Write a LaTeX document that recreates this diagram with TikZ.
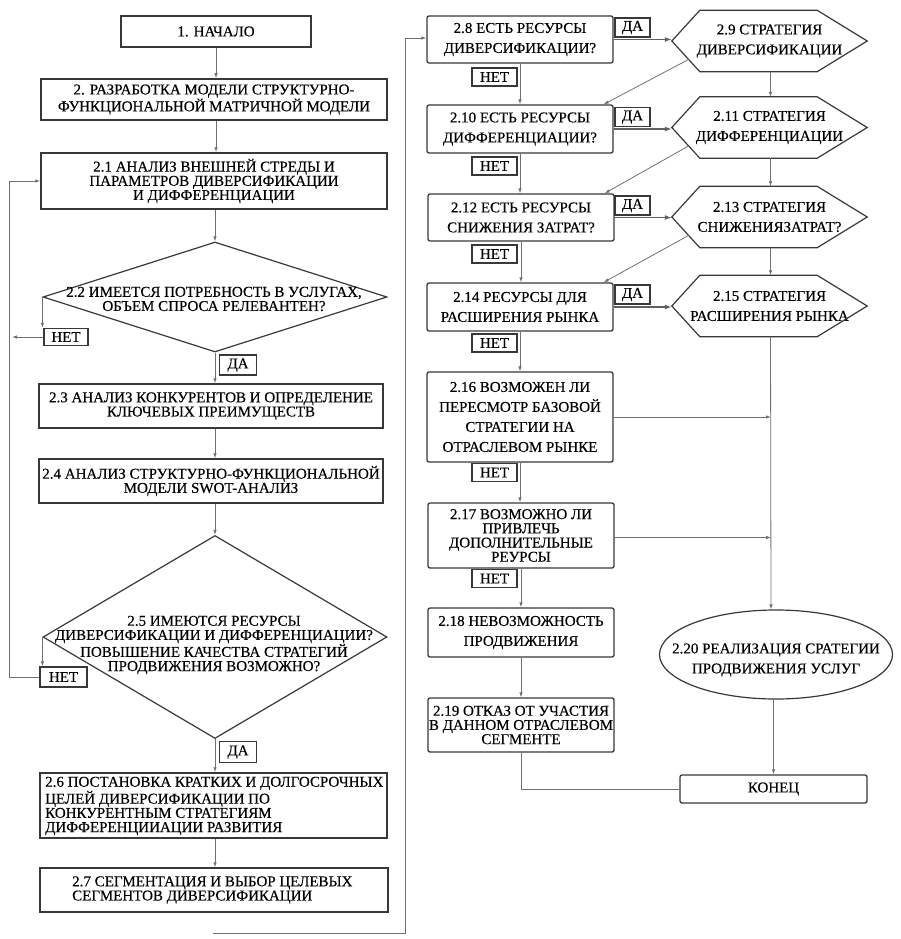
\documentclass[tikz,border=0pt]{standalone}
\usepackage{fontspec}
\setmainfont{Liberation Serif}[FakeBold=0.35]
\usetikzlibrary{shapes.geometric,arrows.meta,calc}
\definecolor{bord}{HTML}{383838}
\definecolor{conn}{HTML}{707070}
\newcommand\txtL{\fontsize{15pt}{14.2pt}\selectfont}
\newcommand\txtR{\fontsize{15pt}{20pt}\selectfont}
\newcommand\txtRt{\fontsize{15pt}{14.2pt}\selectfont}
\newcommand\drawhex[1]{\draw[bord,line width=1.2pt] (#1.west) -- ([xshift=28pt]#1.north west) -- ([xshift=-50pt]#1.north east) -- (#1.east) -- ([xshift=-50pt]#1.south east) -- ([xshift=28pt]#1.south west) -- cycle;}
\tikzset{
  box/.style={draw=bord, line width=1.5pt, inner sep=1pt, align=center, font=\txtL},
  rbox/.style={box, line width=1.3pt, rounded corners=2pt, font=\txtR, minimum width=186pt},
  lab/.style={draw=bord, line width=1.3pt, inner sep=0pt, font=\txtL},
  hexn/.style={minimum width=195pt, minimum height=61pt, inner sep=0pt, align=center, font=\txtR},
  dia/.style={diamond, draw=bord, line width=1.2pt, inner sep=0pt},
  txt/.style={inner sep=0pt, align=center, font=\txtL},
  arr/.style={draw=conn, line width=0.8pt, -{Latex[length=5pt,width=3.5pt]}},
  ln/.style={draw=conn, line width=0.8pt},
  yes/.style={draw=bord!80, line width=1.8pt, -{Latex[length=7pt,width=5pt]}}
}
\begin{document}
\begin{tikzpicture}[x=1pt,y=-1pt]
\useasboundingbox (0,0) rectangle (900,939);
% ---------- left column ----------
\node[box, minimum width=190pt, minimum height=31pt] (n1) at (216,31.5) {1. НАЧАЛО};
\node[box, minimum width=346pt, minimum height=41pt] (n2) at (214,99.5) {2. РАЗРАБОТКА МОДЕЛИ СТРУКТУРНО-\\ФУНКЦИОНАЛЬНОЙ МАТРИЧНОЙ МОДЕЛИ};
\node[box, minimum width=346pt, minimum height=56pt] (n21) at (214,181) {2.1 АНАЛИЗ ВНЕШНЕЙ СТРЕДЫ И\\ПАРАМЕТРОВ ДИВЕРСИФИКАЦИИ\\И ДИФФЕРЕНЦИАЦИИ};
\node[dia, minimum width=344pt, minimum height=110pt] (d22) at (215,297) {};
\node[txt] (t22) at (214,299) {2.2 ИМЕЕТСЯ ПОТРЕБНОСТЬ В УСЛУГАХ,\\ОБЪЕМ СПРОСА РЕЛЕВАНТЕН?};
\node[lab, minimum width=44pt, minimum height=17pt] (l22no) at (66,337) {НЕТ};
\node[lab, minimum width=37pt, minimum height=20pt] (l22yes) at (238,365) {ДА};
\node[box, minimum width=344pt, minimum height=44pt] (n23) at (211,406) {2.3 АНАЛИЗ КОНКУРЕНТОВ И ОПРЕДЕЛЕНИЕ\\КЛЮЧЕВЫХ ПРЕИМУЩЕСТВ};
\node[box, minimum width=344pt, minimum height=44pt] (n24) at (211,481) {2.4 АНАЛИЗ СТРУКТУРНО-ФУНКЦИОНАЛЬНОЙ\\МОДЕЛИ SWOT-АНАЛИЗ};
\node[dia, minimum width=344pt, minimum height=203pt] (d25) at (215,637) {};
\node[txt] (t25) at (214,645) {2.5 ИМЕЮТСЯ РЕСУРСЫ\\ДИВЕРСИФИКАЦИИ И ДИФФЕРЕНЦИАЦИИ?\\ПОВЫШЕНИЕ КАЧЕСТВА СТРАТЕГИЙ\\ПРОДВИЖЕНИЯ ВОЗМОЖНО?};
\node[lab, minimum width=47pt, minimum height=20pt] (l25no) at (63.5,677) {НЕТ};
\node[lab, minimum width=37pt, minimum height=21pt] (l25yes) at (238,752) {ДА};
\node[box, minimum width=347pt, minimum height=65pt] (n26) at (213.5,805.5) {};
\node[txt, align=left, anchor=west] (t26) at (45,806) {2.6 ПОСТАНОВКА КРАТКИХ И ДОЛГОСРОЧНЫХ\\ЦЕЛЕЙ ДИВЕРСИФИКАЦИИ ПО\\КОНКУРЕНТНЫМ СТРАТЕГИЯМ\\ДИФФЕРЕНЦИИАЦИИ РАЗВИТИЯ};
\node[box, minimum width=348pt, minimum height=44pt] (n27) at (214,890) {};
\node[txt, align=left, anchor=west] (t27) at (72,890) {2.7 СЕГМЕНТАЦИЯ И ВЫБОР ЦЕЛЕВЫХ\\СЕГМЕНТОВ ДИВЕРСИФИКАЦИИ};
% left connectors
\draw[arr] (n1.south) -- (n1.south |- n2.north);
\draw[arr] (n2.south -| n1.south) -- (n1.south |- n21.north);
\draw[arr] (n21.south -| d22.north) -- (d22.north);
\draw[arr] (d22.south) -- (d22.south |- n23.north);
\draw[arr] (n23.south -| d22.south) -- (d22.south |- n24.north);
\draw[arr] (n24.south -| d25.north) -- (d25.north);
\draw[arr] (d25.south) -- (d25.south |- n26.north);
\draw[arr] (n26.south -| d25.south) -- (d25.south |- n27.north);
\draw[arr] (d22.west) -- (d22.west |- l22no.north);
\draw[arr] (d25.west) -- (d25.west |- l25no.north);
\coordinate (lpb) at (9,677);
\coordinate (lpt) at (9,181);
\draw[arr] (l22no.west) -- (12,337);
\draw[arr] (l25no.west) -- (lpb) -- (lpt) -- (n21.west);
\coordinate (c27) at (213,933);
\coordinate (c27r) at (405,933);
\coordinate (c28) at (405,38);
% ---------- right column ----------
\node[rbox, minimum height=47pt] (b28) at (520,39.5) {2.8 ЕСТЬ РЕСУРСЫ\\ДИВЕРСИФИКАЦИИ?};
\node[rbox, minimum height=48pt] (b210) at (520,129) {2.10 ЕСТЬ РЕСУРСЫ\\ДИФФЕРЕНЦИАЦИИ?};
\node[rbox, minimum height=47pt] (b212) at (521,217.5) {2.12 ЕСТЬ РЕСУРСЫ\\СНИЖЕНИЯ ЗАТРАТ?};
\node[rbox, minimum height=48pt] (b214) at (520,307) {2.14 РЕСУРСЫ ДЛЯ\\РАСШИРЕНИЯ РЫНКА};
\node[rbox, minimum height=90pt] (b216) at (520,417) {2.16 ВОЗМОЖЕН ЛИ\\ПЕРЕСМОТР БАЗОВОЙ\\СТРАТЕГИИ НА\\ОТРАСЛЕВОМ РЫНКЕ};
\node[rbox, minimum height=65pt, font=\txtRt] (b217) at (521,535.5) {2.17 ВОЗМОЖНО ЛИ\\ПРИВЛЕЧЬ\\ДОПОЛНИТЕЛЬНЫЕ\\РЕУРСЫ};
\node[rbox, minimum height=49pt] (b218) at (521,632.5) {2.18 НЕВОЗМОЖНОСТЬ\\ПРОДВИЖЕНИЯ};
\node[rbox, minimum height=54pt, font=\txtRt] (b219) at (521,725) {2.19 ОТКАЗ ОТ УЧАСТИЯ\\В ДАННОМ ОТРАСЛЕВОМ\\СЕГМЕНТЕ};
\foreach \nm/\yy in {a/77,b/166,c/254,d/343,e/472.5,f/578.5}
  \node[lab, minimum width=45pt, minimum height=18pt] (no\nm) at (494.5,\yy) {НЕТ};
\foreach \nm/\yy in {a/27.5,b/117,c/205.5,d/294.5}
  \node[lab, minimum width=35pt, minimum height=19pt] (da\nm) at (632.5,\yy) {ДА};
\node[hexn] (h29) at (769.5,41) {2.9 СТРАТЕГИЯ\\ДИВЕРСИФИКАЦИИ};
\node[hexn] (h211) at (769.5,127.5) {2.11 СТРАТЕГИЯ\\ДИФФЕРЕНЦИАЦИИ};
\node[hexn] (h213) at (769.5,217) {2.13 СТРАТЕГИЯ\\СНИЖЕНИЯЗАТРАТ?};
\node[hexn] (h215) at (769.5,306) {2.15 СТРАТЕГИЯ\\РАСШИРЕНИЯ РЫНКА};
\drawhex{h29}\drawhex{h211}\drawhex{h213}\drawhex{h215}
\node[ellipse, draw=bord, line width=1.2pt, minimum width=233pt, minimum height=89pt, inner sep=0pt] (e220) at (776,654.5) {};
\node[txt, font=\txtR] (t220) at (776,660) {2.20 РЕАЛИЗАЦИЯ СРАТЕГИИ\\ПРОДВИЖЕНИЯ УСЛУГ};
\node[rbox, minimum width=187pt, minimum height=28pt, font=\txtL] (kon) at (773.5,789) {КОНЕЦ};
% right connectors
\draw[arr] (c27) -- (c27r) -- (c28) -- (c28 -| b28.west);
\draw[arr] (b28.south) -- (b210.north);
\draw[arr] (b210.south) -- (b210.south |- b212.north);
\draw[arr] (b212.south) -- (b212.south |- b214.north);
\draw[arr] (b214.south) -- (b214.south |- b216.north);
\draw[arr] (b216.south) -- (b216.south |- b217.north);
\draw[arr] (b217.south) -- (b217.south |- b218.north);
\draw[arr] (b218.south) -- (b218.south |- b219.north);
\draw[yes] (b28.east) -- (b28.east -| h29.west);
\draw[yes] (b210.east) -- (b210.east -| h211.west);
\draw[yes] (b212.east) -- (b212.east -| h213.west);
\draw[yes] (b214.east) -- (b214.east -| h215.west);
\draw[arr] ($(h29.west)!0.6!([xshift=28pt]h29.south west)$) -- ([xshift=-10pt]b210.north east);
\draw[arr] ($(h211.west)!0.6!([xshift=28pt]h211.south west)$) -- ([xshift=-10pt]b212.north east);
\draw[arr] ($(h213.west)!0.6!([xshift=28pt]h213.south west)$) -- ([xshift=-10pt]b214.north east);
\draw[arr] ([xshift=1pt]h29.south) -- ([xshift=1pt]h211.north);
\draw[arr] ([xshift=1pt]h211.south) -- ([xshift=1pt]h213.north);
\draw[arr] ([xshift=1pt]h213.south) -- ([xshift=1pt]h215.north);
\coordinate (vr) at (771,0);
\draw[arr] ([xshift=1pt]h215.south) -- (vr |- e220.north);
\draw[arr] (b216.east) -- (b216.east -| vr);
\draw[arr] ([yshift=-2pt]b217.east) -- ([yshift=-2pt]b217.east -| vr);
\draw[arr] (e220.south -| kon.north) -- (kon.north);
\draw[ln] (b219.south) |- (kon.west);
\end{tikzpicture}
\end{document}
